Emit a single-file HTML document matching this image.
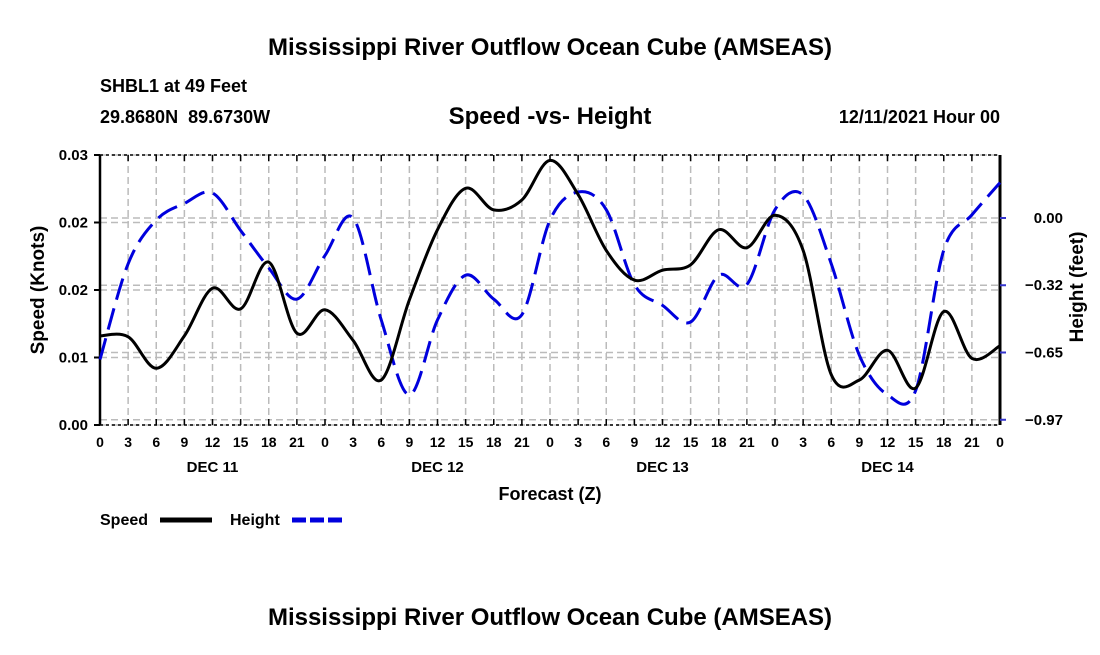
<!DOCTYPE html>
<html><head><meta charset="utf-8"><style>
body{margin:0;background:#fff;font-family:"Liberation Sans",Arial,sans-serif;}
svg text{font-family:"Liberation Sans",Arial,sans-serif;font-weight:bold;}
</style></head><body>
<svg id="c" width="1100" height="650">
<text x="550" y="55" text-anchor="middle" font-size="24">Mississippi River Outflow Ocean Cube (AMSEAS)</text>
<text x="100" y="92" font-size="18">SHBL1 at 49 Feet</text>
<text x="100" y="123" font-size="18" xml:space="preserve">29.8680N  89.6730W</text>
<text x="550" y="124" text-anchor="middle" font-size="24">Speed -vs- Height</text>
<text x="1000" y="123" text-anchor="end" font-size="18">12/11/2021 Hour 00</text>
<text x="550" y="500" text-anchor="middle" font-size="18">Forecast (Z)</text>
<text transform="translate(44,290) rotate(-90)" text-anchor="middle" font-size="19">Speed (Knots)</text>
<text transform="translate(1083,287) rotate(-90)" text-anchor="middle" font-size="19">Height (feet)</text>
<g>
<text x="100" y="525" font-size="16">Speed</text>
<line x1="160" y1="520" x2="212" y2="520" stroke="#000" stroke-width="5"/>
<text x="230" y="525" font-size="16">Height</text>
<line x1="292" y1="520" x2="344" y2="520" stroke="#0000dd" stroke-width="5" stroke-dasharray="14,4"/>
</g>
<text x="550" y="625" text-anchor="middle" font-size="24">Mississippi River Outflow Ocean Cube (AMSEAS)</text>
<g id="plot"></g>
</svg>
<script>
const hours=[0,3,6,9,12,15,18,21,0,3,6,9,12,15,18,21,0,3,6,9,12,15,18,21,0,3,6,9,12,15,18,21,0];
const dayLabels=["DEC 11","DEC 12","DEC 13","DEC 14"];
const speed=[0.0099,0.0098,0.0063,0.0099,0.0152,0.0129,0.0181,0.0102,0.0128,0.0094,0.0050,0.0139,0.0217,0.0263,0.0239,0.0250,0.0294,0.0256,0.0194,0.0161,0.0172,0.0178,0.0217,0.0197,0.0233,0.0194,0.0056,0.0050,0.0083,0.0041,0.0126,0.0074,0.0088];
const height=[-0.68,-0.22,-0.01,0.07,0.12,-0.06,-0.24,-0.39,-0.18,0.00,-0.49,-0.85,-0.49,-0.275,-0.39,-0.465,-0.01,0.125,0.04,-0.32,-0.42,-0.50,-0.275,-0.32,0.04,0.11,-0.22,-0.66,-0.85,-0.83,-0.155,0.015,0.17];
const speedTicks=[0,0.0075,0.015,0.0225,0.03];
const speedTickLabels=["0.00","0.01","0.02","0.02","0.03"];
const heightTicks=[0,-0.3233,-0.6467,-0.97];
const heightTickLabels=["0.00","\u22120.32","\u22120.65","\u22120.97"];
const X0=100,X1=1000,YT=155,YB=425;
const xs=i=>X0+i*(X1-X0)/(hours.length-1);
const ys=v=>YB-(v/0.03)*(YB-YT);
const yh=v=>218-v*208;
const g=document.getElementById('plot');
const NS='http://www.w3.org/2000/svg';
function mk(t,a,p){const e=document.createElementNS(NS,t);for(const k in a)e.setAttribute(k,a[k]);(p||g).appendChild(e);return e;}
hours.forEach((h,i)=>{const l=mk('line',{x1:xs(i),x2:xs(i),y1:YT,y2:YB,stroke:'#bbb','stroke-width':1.5,'stroke-dasharray':'7,4'});

});
speedTicks.forEach(v=>{const l=mk('line',{x1:X0,x2:X1,y1:ys(v),y2:ys(v),stroke:'#bbb','stroke-width':1.5,'stroke-dasharray':'7,4'});

});
heightTicks.forEach(v=>{const l=mk('line',{x1:X0,x2:X1,y1:yh(v),y2:yh(v),stroke:'#bbb','stroke-width':1.5,'stroke-dasharray':'7,4'});

});
[[X0,YT,X1,YT,'top-axis',1.5,'3,3'],[X0,YB,X1,YB,'x-axis',1.5,'3,3'],[X0,YT,X0,YB,'y-axis',2.5,''],[X1,YT,X1,YB,'y2-axis',3,'']].forEach(a=>{
const l=mk('line',{x1:a[0],y1:a[1],x2:a[2],y2:a[3],stroke:'#000','stroke-width':a[5],'stroke-dasharray':a[6]});

});
hours.forEach((h,i)=>{mk('line',{x1:xs(i),x2:xs(i),y1:YB,y2:YB-6,stroke:'#000','stroke-width':1.5});mk('line',{x1:xs(i),x2:xs(i),y1:YT,y2:YT+6,stroke:'#000','stroke-width':1.5});
const t=mk('text',{x:xs(i),y:YB+22,'text-anchor':'middle','font-size':14});t.textContent=h;

});
dayLabels.forEach((d,k)=>{const t=mk('text',{x:xs(4+k*8),y:YB+47,'text-anchor':'middle','font-size':15});t.textContent=d;

});
speedTicks.forEach((v,k)=>{mk('line',{x1:X0-6,x2:X0,y1:ys(v),y2:ys(v),stroke:'#000','stroke-width':2});
const t=mk('text',{x:X0-12,y:ys(v)+5,'text-anchor':'end','font-size':15});t.textContent=speedTickLabels[k];

});
heightTicks.forEach((v,k)=>{mk('line',{x1:X1,x2:X1+6,y1:yh(v),y2:yh(v),stroke:'#3333cc','stroke-width':2});
const t=mk('text',{x:X1+63,y:yh(v)+5,'text-anchor':'end','font-size':15});t.textContent=heightTickLabels[k];

});
function smooth(pts){let d='M'+pts[0][0]+','+pts[0][1];for(let i=0;i<pts.length-1;i++){const p0=pts[Math.max(0,i-1)],p1=pts[i],p2=pts[i+1],p3=pts[Math.min(pts.length-1,i+2)];
d+=' C'+(p1[0]+(p2[0]-p0[0])/6)+','+(p1[1]+(p2[1]-p0[1])/6)+' '+(p2[0]-(p3[0]-p1[0])/6)+','+(p2[1]-(p3[1]-p1[1])/6)+' '+p2[0]+','+p2[1];}return d;}
const hp=mk('path',{d:smooth(height.map((v,i)=>[xs(i),yh(v)])),fill:'none',stroke:'#0000dd','stroke-width':3,'stroke-dasharray':'22,9'});


const sp=mk('path',{d:smooth(speed.map((v,i)=>[xs(i),ys(v)])),fill:'none',stroke:'#000','stroke-width':3});


</script>
</body></html>
